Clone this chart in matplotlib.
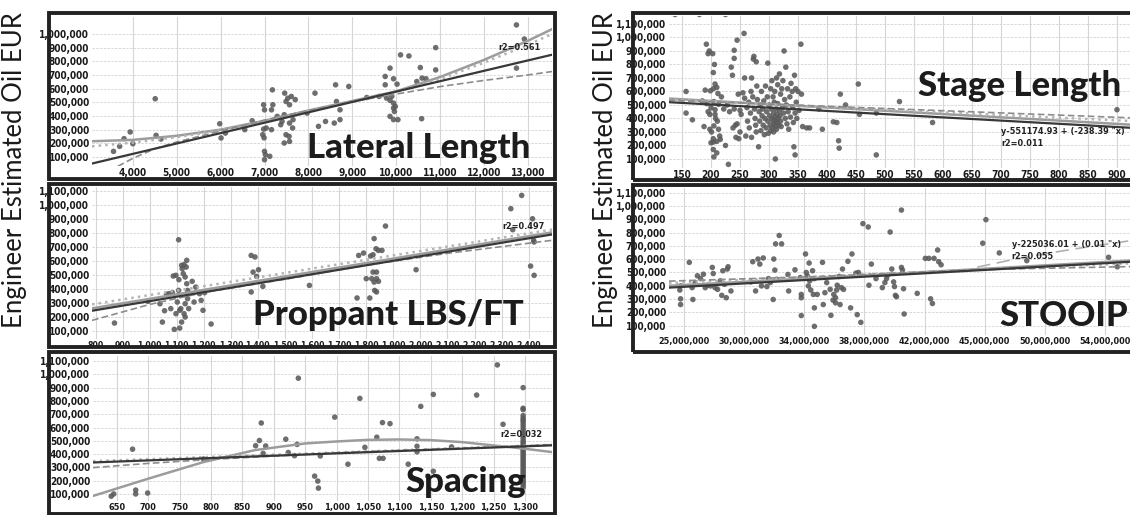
import os
import matplotlib
matplotlib.use('Agg')
import matplotlib.pyplot as plt
from matplotlib.patches import Rectangle
from matplotlib import font_manager as fm
from matplotlib.font_manager import FontProperties

# ---------------- DATA ----------------
# Lateral Length panel (x ft, y thousand bbl)
lateral_x = [3560, 3700, 3800, 3940, 4000, 4510, 4530, 4640, 5980, 6010, 6110, 6550, 6720, 6980, 7000, 6980,
             6960, 6990, 7000, 7020, 7000, 7120, 7040, 7160, 7180, 7160, 7190, 7290, 7370, 7450, 7460, 7490,
             7530, 7570, 7490, 7560, 7450, 7570, 7650, 7610, 7640, 7570, 7400, 7700, 8150, 7970, 8230, 8390,
             8590, 8620, 8640, 8720, 8720, 8920, 9330, 9610, 9780, 9750, 9860, 9750, 9940, 10020, 9860, 9860,
             9940, 9940, 9960, 9940, 10040, 9980, 9900, 10100, 10290, 10550, 10470, 10590, 10680, 10580, 10900,
             10900, 12740, 12740, 12920]
lateral_y = [141, 178, 234, 283, 197, 526, 258, 231, 343, 239, 275, 300, 365, 482, 445, 304,
             263, 240, 141, 117, 80, 105, 312, 300, 591, 445, 482, 397, 336, 409, 567, 506,
             530, 482, 263, 251, 202, 214, 373, 543, 312, 348, 360, 520, 567, 421, 324, 360,
             348, 628, 506, 445, 373, 616, 535, 543, 531, 689, 750, 628, 672, 633, 514, 397,
             494, 458, 433, 373, 373, 470, 543, 847, 839, 754, 652, 677, 672, 380, 900,
             737, 1066, 750, 963]
lateral_ticks = [4000, 5000, 6000, 7000, 8000, 9000, 10000, 11000, 12000, 13000]
lat_dark_x = [3070, 13550]
lat_dark_y = [52, 848]
lat_poly_x = [3070, 4000, 5000, 6000, 7000, 8000, 9000, 10000, 11000, 12000, 13000, 13550]
lat_poly_y = [215, 225, 255, 300, 365, 440, 510, 580, 685, 810, 950, 1035]
lat_dot_y = [178, 205, 245, 295, 360, 435, 505, 575, 670, 790, 920, 1000]
lat_dash_x = [3660, 4000, 4500, 5000, 6000, 7000, 8000, 9000, 10000, 11000, 12000, 13000, 13550]
lat_dash_y = [32, 90, 160, 210, 290, 370, 440, 505, 560, 615, 660, 700, 725]

# Proppant panel
prop_x = [870, 994, 1038, 1047, 1055, 1062, 1071, 1084, 1087, 1097, 1107, 1102, 1108, 1107, 1111, 1115,
          1118, 1120, 1124, 1127, 1131, 1131, 1135, 1137, 1137, 1140, 1140, 1144, 1127, 1118, 1111, 1091,
          1078, 1097, 1131, 1164, 1157, 1170, 1184, 1190, 1197, 1203, 1227, 1375, 1389, 1382, 1402, 1375,
          1395, 1418, 1590, 1766, 1772, 1790, 1800, 1813, 1816, 1825, 1829, 1836, 1825, 1829, 1838, 1831,
          1838, 1845, 1845, 1858, 1838, 1820, 1871, 1984, 2334, 2341, 2374, 2414, 2418, 2420, 2407, 2420]
prop_y = [157, 312, 295, 164, 245, 362, 367, 374, 493, 498, 752, 307, 467, 390, 248, 260,
          569, 545, 510, 574, 486, 295, 557, 605, 438, 390, 331, 260, 224, 164, 121, 112,
          260, 224, 200, 307, 455, 414, 367, 319, 248, 374, 150, 640, 629, 521, 538, 379,
          490, 419, 426, 336, 640, 657, 474, 336, 636, 645, 760, 688, 521, 450, 521, 390,
          474, 455, 676, 676, 379, 474, 850, 538, 974, 824, 1069, 902, 748, 736, 564, 498]
prop_ticks = list(range(800, 2401, 100))
prop_dark_x = [787, 2486]
prop_dark_y = [245, 790]
prop_poly_y = [262, 805]
prop_dot_y = [290, 825]
prop_dash_x = [787, 1000, 1200, 1500, 1800, 2100, 2486]
prop_dash_y = [176, 290, 375, 470, 570, 655, 748]

# Spacing panel
spacing_x = [641, 645, 675, 680, 680, 699, 788, 871, 877, 880, 887, 883, 919, 923, 933, 937, 939, 965, 970,
             971, 974, 997, 1018, 1037, 1045, 1064, 1068, 1074, 1073, 1085, 1114, 1128, 1128, 1128, 1134,
             1145, 1154, 1154, 1183, 1223, 1256, 1265] + [1297] * 37
spacing_y = [83, 100, 437, 129, 100, 107, 363, 463, 502, 634, 461, 405, 512, 412, 388, 473, 971, 234, 197,
             144, 386, 678, 324, 819, 451, 527, 368, 368, 637, 629, 324, 515, 459, 417, 759,
             234, 271, 849, 454, 844, 1071, 624] + [900, 745, 735, 690, 670, 655, 640, 620, 600, 580, 560,
             540, 520, 500, 485, 470, 455, 440, 425, 410, 395, 380, 365, 350, 335, 320, 305, 290, 275,
             260, 245, 230, 215, 200, 185, 170, 150]
spacing_ticks = list(range(650, 1301, 50))
sp_dark_x = [612, 1343]
sp_dark_y = [337, 466]
sp_dot_y = [347, 470]
sp_dash_x = [612, 700, 800, 1000, 1200, 1343]
sp_dash_y = [298, 330, 360, 410, 445, 470]
sp_poly_x = [612, 700, 788, 870, 950, 1000, 1050, 1100, 1150, 1200, 1250, 1300, 1343]
sp_poly_y = [85, 215, 340, 430, 480, 495, 507, 510, 505, 490, 465, 440, 415]

# Stage Length panel
stage_x = [157, 157, 168, 185, 188, 190, 192, 195, 193, 195, 197, 198, 198, 199, 200, 200, 201,
           203, 204, 204, 205, 205, 204, 204, 204, 205, 206, 207, 207, 207, 208, 210, 210, 210, 211, 212,
           213, 213, 215, 216, 218, 222, 225, 228, 230, 232, 235, 237, 238, 240, 240, 240, 242, 243, 245,
           245, 247, 248, 250, 250, 252, 255, 257, 258, 258, 260, 262, 263, 265, 266, 268, 269, 270, 270,
           272, 273, 274, 275, 276, 277, 278, 278, 279, 280, 282, 283, 284, 285, 286, 287, 288, 289, 290,
           291, 292, 293, 294, 295, 296, 297, 298, 298, 299, 300, 301, 302, 303, 303, 304, 305, 305, 306,
           307, 307, 308, 308, 309, 309, 310, 310, 311, 311, 312, 312, 313, 313, 314, 314, 315, 315, 316,
           317, 318, 318, 319, 320, 320, 321, 322, 323, 324, 325, 326, 327, 328, 329, 330, 331, 332, 333,
           334, 336, 337, 338, 340, 341, 342, 343, 344, 345, 345, 346, 347, 348, 350, 352, 355, 356, 358,
           365, 370, 386, 392, 411, 417, 420, 421, 423, 432, 454, 456, 485, 485, 525, 582, 900,
           138, 180, 225]
stage_y = [600, 440, 390, 530, 340, 610, 950, 880, 510, 450, 900, 430, 320, 605, 480, 220, 300,
           880, 740, 620, 525, 345, 250, 225, 170, 115, 800, 655, 465, 430, 400, 630, 230, 145, 380, 585,
           505, 320, 270, 245, 560, 470, 200, 500, 60, 450, 780, 720, 330, 845, 905, 470, 350, 260, 980,
           360, 580, 250, 460, 300, 430, 590, 1030, 700, 550, 270, 480, 380, 520, 330, 440, 600, 700, 260,
           560, 840, 860, 470, 400, 350, 820, 300, 640, 540, 190, 450, 380, 500, 310, 600, 420, 470, 350,
           530, 280, 400, 640, 330, 450, 560, 810, 380, 290, 500, 420, 350, 620, 310, 470, 400, 680, 330,
           560, 380, 440, 300, 520, 360, 600, 410, 340, 100, 470, 390, 700, 320, 430, 370, 650, 510, 400,
           350, 730, 460, 420, 580, 380, 340, 620, 480, 680, 440, 900, 540, 400, 780, 500, 360, 620, 450,
           320, 560, 410, 660, 600, 480, 370, 190, 720, 130, 440, 620, 520, 400, 600, 460, 950, 580, 340,
           330, 330, 470, 320, 375, 370, 235, 180, 580, 500, 655, 430, 440, 130, 525, 370, 465,
           1170, 1170, 1170]
stage_ticks = list(range(150, 901, 50))
st_dark_x = [126, 940]
st_dark_y = [521, 327]
st_poly_y = [548, 350]
st_dot_y = [540, 378]
st_dash_y = [535, 402]

# STOOIP panel (x on the chart's evenly spaced axis, millions)
stooip_x = [25.77, 25.72, 25.77, 25.77, 26.35, 26.54, 26.59, 26.75, 26.89, 27.10, 27.29, 27.41, 27.57,
            27.76, 27.88, 27.94, 28.06, 28.23, 28.41, 28.51, 28.58, 28.69, 28.81, 28.88, 28.93, 29.12,
            30.45, 30.57, 30.76, 30.92, 31.04, 31.15, 31.27, 31.51, 31.62, 31.74, 31.93, 31.97, 32.04,
            32.09, 32.16, 32.33, 32.49, 32.91, 32.96, 33.38, 33.73, 33.80, 33.80, 33.80, 34.08, 34.13,
            34.27, 34.20, 34.32, 34.36, 34.43, 34.55, 34.60, 34.67, 34.67, 34.67, 34.86, 35.21, 35.37,
            35.26, 35.49, 35.72, 35.77, 35.91, 35.96, 36.08, 36.08, 36.15, 36.19, 36.31, 36.38, 36.47,
            36.54, 36.61, 36.90, 37.08, 37.17, 37.43, 37.60, 37.52, 37.76, 37.90, 38.25, 38.30, 38.46,
            38.77, 39.19, 39.36, 39.47, 39.54, 39.71, 39.82, 39.94, 40.00, 40.06, 40.13, 40.46, 40.46,
            40.53, 40.60, 40.64, 41.51, 42.05, 42.29, 42.40, 42.52, 42.63, 42.87, 42.94, 43.10, 45.87,
            46.08, 46.97, 48.80, 54.24, 54.82]
stooip_y = [399, 368, 302, 259, 576, 386, 297, 424, 475, 454, 487, 386, 404,
            399, 538, 492, 386, 373, 437, 328, 513, 411, 310, 526, 543, 361,
            429, 581, 361, 601, 563, 399, 609, 394, 454, 424, 297, 601, 518,
            715, 449, 778, 715, 485, 361, 520, 462, 335, 310, 176, 639, 500,
            399, 475, 571, 437, 368, 513, 335, 454, 234, 95, 335, 576, 348,
            259, 424, 373, 178, 292, 335, 310, 272, 368, 404, 470, 259, 386,
            526, 373, 584, 234, 639, 495, 500, 183, 125, 867, 842, 404, 563,
            454, 386, 424, 454, 480, 804, 526, 429, 394, 328, 318, 969, 538,
            518, 378, 188, 343, 606, 606, 302, 267, 606, 669, 581, 558, 720,
            897, 647, 589, 614, 543]
stooip_tick_pos = [26, 30, 34, 38, 42, 46, 50, 54]
stooip_tick_labels = ['25,000,000', '30,000,000', '34,000,000', '38,000,000', '42,000,000',
                      '45,000,000', '50,000,000', '54,000,000']
so_dark_x = [25.0, 56.4]
so_dark_y = [386, 585]
so_poly_x = [25.0, 40, 56.4]
so_poly_y = [400, 490, 594]
so_dot_y = [420, 495, 572]
so_dash_x = [25.0, 35, 45, 56.4]
so_dash_y = [435, 470, 520, 546]
so_curve_x = [45.5, 48, 50.5, 53, 56.4]
so_curve_y = [540, 600, 650, 695, 750]

# ---------------- FONTS ----------------
paths = [f.fname for f in fm.fontManager.ttflist]


def pick(keys):
    for k in keys:
        for p in paths:
            b = os.path.basename(p).lower().replace('_', '').replace(' ', '')
            if b.startswith(k):
                return p
    return None


tick_path = pick(['liberationsansnarrow-bold.', 'dejavusanscondensed-bold.', 'notosans-condensedbold.',
                  'opensans-condensedbold.', 'robotocondensed-bold.', 'liberationsans-bold.'])
big_path = pick(['lato-black.', 'lato-heavy.', 'lato-extrabold.', 'lato-bold.', 'opensans-bold.'])
reg_path = pick(['lato-regular.', 'opensans-regular.'])
TICKSIZE = 7.2


def fp(path, size, fallback_weight='bold'):
    if path:
        return FontProperties(fname=path, size=size)
    return FontProperties(family='DejaVu Sans', weight=fallback_weight, size=size)


TICK_FP = fp(tick_path, TICKSIZE)
SMALL_FP = fp(tick_path, 6.5)
BIG_FP = fp(big_path, 25)
YLAB_FP = fp(reg_path, 18.5, 'normal')

W, H = 1130, 515
fig = plt.figure(figsize=(W / 100, H / 100), dpi=100)
fig.patch.set_facecolor('white')

PT = '#5a5a5a'
DARK = '#383838'
GRAY = '#9c9c9c'
DOT = '#b4b4b4'
DASH = '#8c8c8c'


def ax_px(x0, y0, x1, y1):
    return fig.add_axes([x0 / W, 1 - y1 / H, (x1 - x0) / W, (y1 - y0) / H])


def frame_px(x0, y0, x1, y1):
    fig.add_artist(Rectangle((x0 / W, 1 - y1 / H), (x1 - x0) / W, (y1 - y0) / H,
                             transform=fig.transFigure, fill=False, lw=2.8,
                             ec='#222222', zorder=20))


def style(ax, xticks, xlabels, yticks, xlim, ylim, xsize=None):
    ax.set_xlim(*xlim)
    ax.set_ylim(*ylim)
    ax.set_xticks(xticks)
    ax.set_xticklabels(xlabels)
    ax.set_yticks(yticks)
    ax.set_yticklabels([f"{int(v * 1000):,}" for v in yticks])
    ax.tick_params(length=0, pad=2, colors='#1a1a1a')
    ax.tick_params(axis='x', pad=1.5)
    for lbl in ax.get_yticklabels():
        lbl.set_fontproperties(TICK_FP)
    xfp = TICK_FP if xsize is None else fp(tick_path, xsize)
    for lbl in ax.get_xticklabels():
        lbl.set_fontproperties(xfp)
    for s in ax.spines.values():
        s.set_visible(False)
    for xt in xticks:
        ax.axvline(xt, color='#d6d6d6', lw=0.8, zorder=0)
    for yt in yticks:
        ax.axhline(yt, color='#d2d2d2', lw=0.6, ls=(0, (3, 1.5)), zorder=0)


def big(ax, x, y, s):
    ax.text(x, y, s, ha='right', va='baseline', fontproperties=BIG_FP, color='#1c1c1c', zorder=15)


def small(ax, x, y, s, ha='right'):
    ax.text(x, y, s, ha=ha, va='center', fontproperties=SMALL_FP, color='#222222', zorder=15)


def pts(ax, x, y):
    ax.scatter(x, y, s=16, color=PT, edgecolors='none', alpha=0.88, zorder=3)


# ---- Panel 1: Lateral Length ----
ax1 = ax_px(92, 17, 552, 166)
style(ax1, lateral_ticks, [f"{v:,}" for v in lateral_ticks], list(range(100, 1001, 100)),
      (3070, 13550), (34, 1124))
pts(ax1, lateral_x, lateral_y)
ax1.plot(lat_poly_x, lat_poly_y, color=GRAY, lw=1.8, zorder=4)
ax1.plot(lat_poly_x, lat_dot_y, color=DOT, lw=1.8, ls=':', zorder=4)
ax1.plot(lat_dash_x, lat_dash_y, color=DASH, lw=1.2, ls=(0, (4, 2)), zorder=4)
ax1.plot(lat_dark_x, lat_dark_y, color=DARK, lw=1.6, zorder=5)
small(ax1, 13290, 900, 'r2=0.561')
big(ax1, 13060, 93, 'Lateral Length')
frame_px(49, 13, 555, 179)

# ---- Panel 2: Proppant ----
ax2 = ax_px(92, 187, 552, 339)
style(ax2, prop_ticks, [f"{v:,}" for v in prop_ticks], list(range(100, 1101, 100)),
      (787, 2486), (43, 1129), xsize=6.2)
pts(ax2, prop_x, prop_y)
ax2.plot(prop_dark_x, prop_poly_y, color=GRAY, lw=1.8, zorder=4)
ax2.plot(prop_dark_x, prop_dot_y, color=DOT, lw=1.8, ls=':', zorder=4)
ax2.plot(prop_dash_x, prop_dash_y, color=DASH, lw=1.2, ls=(0, (4, 2)), zorder=4)
ax2.plot(prop_dark_x, prop_dark_y, color=DARK, lw=1.6, zorder=5)
small(ax2, 2460, 848, 'r2=0.497')
big(ax2, 2380, 140, 'Proppant LBS/FT')
frame_px(49, 184, 555, 347)

# ---- Panel 3: Spacing ----
ax3 = ax_px(93, 356, 552, 501)
style(ax3, spacing_ticks, [f"{v:,}" for v in spacing_ticks], list(range(100, 1101, 100)),
      (612, 1343), (47, 1138), xsize=6.6)
pts(ax3, spacing_x, spacing_y)
ax3.plot(sp_poly_x, sp_poly_y, color=GRAY, lw=1.8, zorder=4)
ax3.plot(sp_dark_x, sp_dot_y, color=DOT, lw=1.8, ls=':', zorder=4)
ax3.plot(sp_dash_x, sp_dash_y, color=DASH, lw=1.2, ls=(0, (4, 2)), zorder=4)
ax3.plot(sp_dark_x, sp_dark_y, color=DARK, lw=1.6, zorder=5)
small(ax3, 1328, 544, 'r2=0.032')
big(ax3, 1302, 112, 'Spacing')
frame_px(49, 352, 555, 514)

# ---- Panel 4: Stage Length ----
ax4 = ax_px(669, 16, 1140, 168)
style(ax4, stage_ticks, [str(v) for v in stage_ticks], list(range(100, 1101, 100)),
      (127.6, 939.7), (33, 1159))
pts(ax4, stage_x, stage_y)
ax4.plot(st_dark_x, st_poly_y, color=GRAY, lw=1.8, zorder=4)
ax4.plot(st_dark_x, st_dot_y, color=DOT, lw=1.8, ls=':', zorder=4)
ax4.plot(st_dark_x, st_dash_y, color=DASH, lw=1.2, ls=(0, (4, 2)), zorder=4)
ax4.plot(st_dark_x, st_dark_y, color=DARK, lw=1.6, zorder=5)
small(ax4, 700, 300, 'y-551174.93 + (-238.39 "x)', ha='left')
small(ax4, 700, 212, 'r2=0.011', ha='left')
big(ax4, 907, 565, 'Stage Length')
frame_px(633, 13, 1150, 180)

# ---- Panel 5: STOOIP ----
ax5 = ax_px(669, 188, 1140, 335)
style(ax5, stooip_tick_pos, stooip_tick_labels, list(range(100, 1101, 100)),
      (25.0, 56.33), (30, 1135), xsize=6.5)
pts(ax5, stooip_x, stooip_y)
ax5.plot(so_poly_x, so_poly_y, color=GRAY, lw=1.8, zorder=4)
ax5.plot(so_poly_x, so_dot_y, color=DOT, lw=1.8, ls=':', zorder=4)
ax5.plot(so_dash_x, so_dash_y, color=DASH, lw=1.2, ls=(0, (4, 2)), zorder=4)
ax5.plot(so_curve_x, so_curve_y, color='#b0b0b0', lw=1.2, ls=(0, (8, 4)), zorder=4)
ax5.plot(so_dark_x, so_dark_y, color=DARK, lw=1.6, zorder=5)
small(ax5, 47.8, 708, 'y-225036.01 + (0.01 "x)', ha='left')
small(ax5, 47.8, 619, 'r2=0.055', ha='left')
big(ax5, 55.5, 100, 'STOOIP')
frame_px(633, 185, 1150, 352)

# ---- axis titles ----
for xc in (15, 605):
    fig.text(xc / W, 1 - 170 / H, 'Engineer Estimated Oil EUR', rotation=90, ha='center', va='center',
             fontproperties=YLAB_FP, color='#1a1a1a')

fig.savefig('out.png', dpi=100, facecolor='white')
